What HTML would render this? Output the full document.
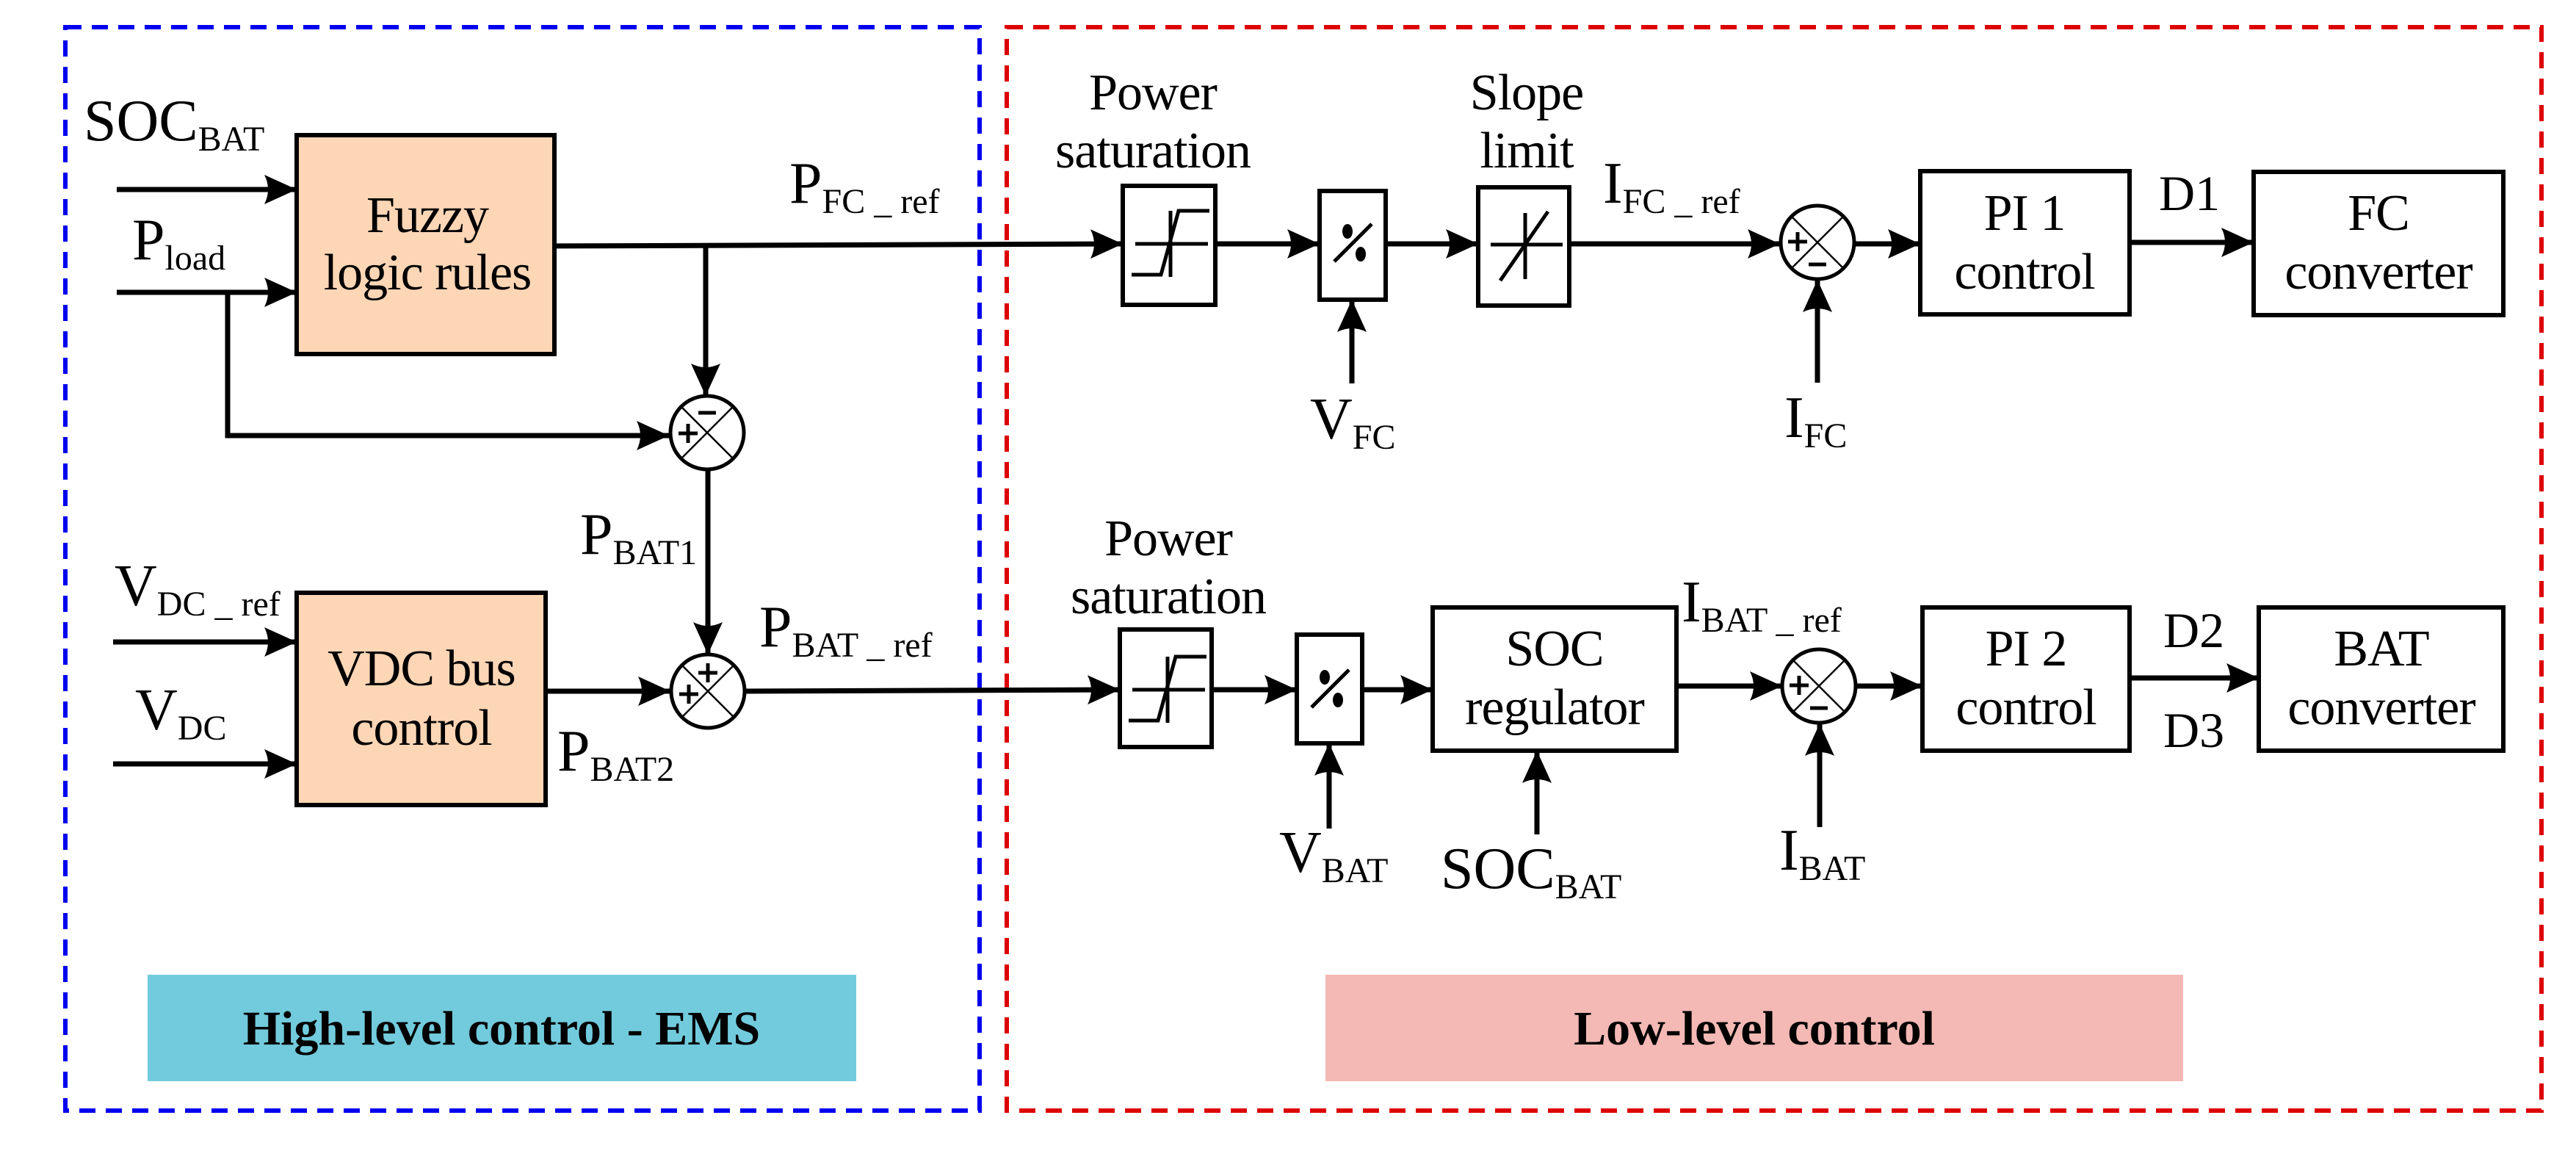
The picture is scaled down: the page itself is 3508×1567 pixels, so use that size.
<!DOCTYPE html>
<html><head><meta charset="utf-8"><style>
html,body{margin:0;padding:0;background:#fff;}
svg{display:block;}
text{font-family:"Liberation Serif",serif;fill:#000;}
</style></head><body>
<svg width="3508" height="1567" viewBox="0 0 3508 1567" xmlns="http://www.w3.org/2000/svg" font-family="Liberation Serif, serif">
<defs>
<marker id="a" markerUnits="userSpaceOnUse" markerWidth="46" markerHeight="46" refX="44" refY="23" orient="auto">
<path d="M0,3 L44,23 L0,43 Q10,23 0,3 z" fill="#000"/>
</marker>
</defs>
<rect width="3508" height="1567" fill="#fff"/>
<rect x="89" y="37" width="1245" height="1475" fill="none" stroke="#0000ee" stroke-width="6" stroke-dasharray="22 14"/>
<rect x="1371" y="37" width="2090" height="1475" fill="none" stroke="#dd0000" stroke-width="6" stroke-dasharray="22 14"/>
<rect x="201" y="1327" width="965" height="145" fill="#72cbdc"/>
<text x="683" y="1422" font-size="66" font-weight="bold" text-anchor="middle" font-family="Liberation Serif, serif">High-level control - EMS</text>
<rect x="1805" y="1327" width="1168" height="145" fill="#f4b9b5"/>
<text x="2389" y="1422" font-size="66" font-weight="bold" text-anchor="middle" font-family="Liberation Serif, serif">Low-level control</text>

<g stroke="#000" stroke-width="7" fill="none">
<line x1="159" y1="258" x2="404" y2="258" marker-end="url(#a)"/>
<line x1="159" y1="398" x2="404" y2="398" marker-end="url(#a)"/>
<polyline points="310,398 310,593 911,593" marker-end="url(#a)"/>
<line x1="154" y1="874" x2="404" y2="874" marker-end="url(#a)"/>
<line x1="154" y1="1040" x2="404" y2="1040" marker-end="url(#a)"/>
<line x1="745" y1="335" x2="1529" y2="332" marker-end="url(#a)"/>
<line x1="961" y1="335" x2="961" y2="539" marker-end="url(#a)"/>
<line x1="964" y1="639" x2="964" y2="891" marker-end="url(#a)"/>
<line x1="743" y1="941" x2="913" y2="941" marker-end="url(#a)"/>
<line x1="1015" y1="941" x2="1525" y2="939" marker-end="url(#a)"/>
<line x1="1655" y1="332" x2="1797" y2="332" marker-end="url(#a)"/>
<line x1="1887" y1="332" x2="2013" y2="332" marker-end="url(#a)"/>
<line x1="2137" y1="332" x2="2424" y2="332" marker-end="url(#a)"/>
<line x1="2526" y1="332" x2="2615" y2="332" marker-end="url(#a)"/>
<line x1="2900" y1="330" x2="3069" y2="330" marker-end="url(#a)"/>
<line x1="1841" y1="522" x2="1841" y2="408" marker-end="url(#a)"/>
<line x1="2475" y1="521" x2="2475" y2="381" marker-end="url(#a)"/>
<line x1="1650" y1="939" x2="1766" y2="939" marker-end="url(#a)"/>
<line x1="1855" y1="939" x2="1951" y2="939" marker-end="url(#a)"/>
<line x1="2283" y1="934" x2="2427" y2="934" marker-end="url(#a)"/>
<line x1="2528" y1="934" x2="2618" y2="934" marker-end="url(#a)"/>
<line x1="2900" y1="923" x2="3076" y2="923" marker-end="url(#a)"/>
<line x1="1810" y1="1128" x2="1810" y2="1012" marker-end="url(#a)"/>
<line x1="2093" y1="1136" x2="2093" y2="1022" marker-end="url(#a)"/>
<line x1="2478" y1="1126" x2="2478" y2="985" marker-end="url(#a)"/>
</g>

<g stroke="#000" stroke-width="6">
<rect x="404" y="184" width="351" height="298" fill="#fdd6b6"/>
<rect x="404" y="807" width="339" height="289" fill="#fdd6b6"/>
<rect x="1529" y="253" width="126" height="162" fill="#fff"/>
<rect x="1797" y="260" width="90" height="148" fill="#fff"/>
<rect x="2013" y="255" width="124" height="161" fill="#fff"/>
<rect x="2615" y="233" width="285" height="195" fill="#fff"/>
<rect x="3069" y="234" width="340" height="195" fill="#fff"/>
<rect x="1525" y="857" width="125" height="160" fill="#fff"/>
<rect x="1766" y="864" width="89" height="148" fill="#fff"/>
<rect x="1951" y="827" width="332" height="195" fill="#fff"/>
<rect x="2618" y="827" width="282" height="195" fill="#fff"/>
<rect x="3076" y="827" width="333" height="195" fill="#fff"/>
</g>

<g stroke="#000" stroke-width="5" fill="none">
<line x1="1546" y1="332" x2="1645" y2="332"/><line x1="1594" y1="287" x2="1594" y2="377"/>
<polyline points="1541,374 1581,374 1605,287 1647,287"/>
<line x1="1542" y1="939" x2="1641" y2="939"/><line x1="1590" y1="894" x2="1590" y2="984"/>
<polyline points="1537,981 1577,981 1601,894 1643,894"/>
<line x1="1817" y1="356" x2="1868" y2="305"/>
<line x1="1786" y1="963" x2="1837" y2="912"/>
<line x1="2030" y1="333" x2="2128" y2="333"/><line x1="2077" y1="290" x2="2077" y2="380"/>
<line x1="2043" y1="382" x2="2108" y2="288"/>
</g>
<g fill="#000">
<ellipse cx="1835" cy="315" rx="7" ry="10"/><ellipse cx="1853" cy="346" rx="7" ry="10"/>
<ellipse cx="1804" cy="922" rx="7" ry="10"/><ellipse cx="1822" cy="953" rx="7" ry="10"/>
</g>

<g stroke="#000" fill="#fff">
<circle cx="963" cy="589" r="50" stroke-width="5"/>
<circle cx="964" cy="941" r="50" stroke-width="5"/>
<circle cx="2475" cy="330" r="50" stroke-width="5"/>
<circle cx="2477" cy="934" r="50" stroke-width="5"/>
</g>
<g stroke="#000" stroke-width="2.5">
<line x1="928" y1="554" x2="998" y2="624"/><line x1="998" y1="554" x2="928" y2="624"/>
<line x1="929" y1="906" x2="999" y2="976"/><line x1="999" y1="906" x2="929" y2="976"/>
<line x1="2440" y1="295" x2="2510" y2="365"/><line x1="2510" y1="295" x2="2440" y2="365"/>
<line x1="2442" y1="899" x2="2512" y2="969"/><line x1="2512" y1="899" x2="2442" y2="969"/>
</g>
<g stroke="#000" stroke-width="5">
<line x1="924" y1="590" x2="950" y2="590"/><line x1="937" y1="577" x2="937" y2="603"/>
<line x1="951" y1="562" x2="975" y2="562"/>
<line x1="925" y1="945" x2="951" y2="945"/><line x1="938" y1="932" x2="938" y2="958"/>
<line x1="951" y1="916" x2="977" y2="916"/><line x1="964" y1="903" x2="964" y2="929"/>
<line x1="2435" y1="329" x2="2461" y2="329"/><line x1="2448" y1="316" x2="2448" y2="342"/>
<line x1="2463" y1="360" x2="2487" y2="360"/>
<line x1="2437" y1="933" x2="2463" y2="933"/><line x1="2450" y1="920" x2="2450" y2="946"/>
<line x1="2465" y1="964" x2="2489" y2="964"/>
</g>

<g font-size="70" text-anchor="middle" font-family="Liberation Serif, serif" letter-spacing="-1">
<text x="582" y="316">Fuzzy</text>
<text x="582" y="394">logic rules</text>
<text x="574" y="933">VDC bus</text>
<text x="574" y="1014">control</text>
<text x="2757" y="313">PI 1</text>
<text x="2757" y="393">control</text>
<text x="3239" y="313">FC</text>
<text x="3239" y="393">converter</text>
<text x="2117" y="906">SOC</text>
<text x="2117" y="986">regulator</text>
<text x="2759" y="906">PI 2</text>
<text x="2759" y="986">control</text>
<text x="3243" y="906">BAT</text>
<text x="3243" y="986">converter</text>
<text x="1570" y="149">Power</text>
<text x="1570" y="228">saturation</text>
<text x="2079" y="149">Slope</text>
<text x="2079" y="228">limit</text>
<text x="1591" y="756">Power</text>
<text x="1591" y="835">saturation</text>
</g>
<g font-size="68" font-family="Liberation Serif, serif">
<text x="2940" y="286">D1</text>
<text x="2946" y="881">D2</text>
<text x="2946" y="1017">D3</text>
</g>

<g font-size="80" font-family="Liberation Serif, serif">
<text x="114" y="191">SOC<tspan font-size="48" dy="14">BAT</tspan></text>
<text x="180" y="353">P<tspan font-size="48" dy="14">load</tspan></text>
<text x="156" y="824">V<tspan font-size="48" dy="14">DC _ ref</tspan></text>
<text x="184" y="993">V<tspan font-size="48" dy="14">DC</tspan></text>
<text x="1075" y="276">P<tspan font-size="48" dy="14">FC _ ref</tspan></text>
<text x="790" y="754">P<tspan font-size="48" dy="14">BAT1</tspan></text>
<text x="1034" y="880">P<tspan font-size="48" dy="14">BAT _ ref</tspan></text>
<text x="759" y="1049">P<tspan font-size="48" dy="14">BAT2</tspan></text>
<text x="2183" y="276">I<tspan font-size="48" dy="14">FC _ ref</tspan></text>
<text x="1784" y="597">V<tspan font-size="48" dy="14">FC</tspan></text>
<text x="2430" y="595">I<tspan font-size="48" dy="14">FC</tspan></text>
<text x="2290" y="846">I<tspan font-size="48" dy="14">BAT _ ref</tspan></text>
<text x="1742" y="1187">V<tspan font-size="48" dy="14">BAT</tspan></text>
<text x="1962" y="1209">SOC<tspan font-size="48" dy="14">BAT</tspan></text>
<text x="2423" y="1184">I<tspan font-size="48" dy="14">BAT</tspan></text>
</g>
</svg>
</body></html>
